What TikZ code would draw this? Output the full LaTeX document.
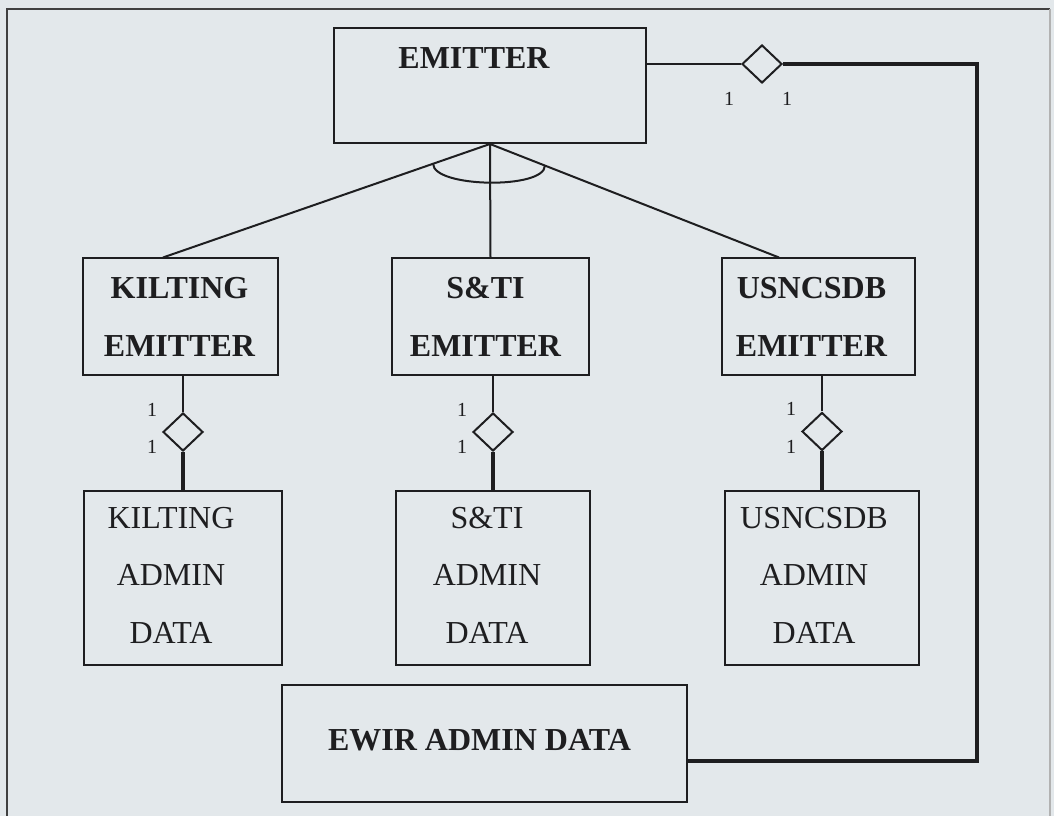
\documentclass[tikz,border=0pt]{standalone}
\usepackage{fontspec}
\setmainfont{Liberation Serif}
\usetikzlibrary{shapes.geometric,calc}
\definecolor{bg}{RGB}{227,232,235}
\definecolor{ink}{RGB}{30,30,32}
\begin{document}
\begin{tikzpicture}[x=0.75pt,y=-0.75pt,
  frame/.style={draw=ink,line width=1.5pt,inner sep=0pt},
  enttxt/.style={align=center,inner sep=0pt,text=ink,
    font=\fontsize{24pt}{43.5pt}\selectfont\bfseries},
  admtxt/.style={align=center,inner sep=0pt,text=ink,
    font=\fontsize{24pt}{43.1pt}\selectfont},
  entbox/.style={frame,minimum height=87.75pt},
  adminbox/.style={frame,minimum height=130.5pt},
  relship/.style={diamond,draw=ink,line width=1.5pt,minimum width=30pt,
    minimum height=28.5pt,inner sep=0pt},
  card/.style={font=\fontsize{15pt}{17pt}\selectfont,inner sep=0pt,text=ink},
  conn/.style={draw=ink,line width=1.5pt},
  heavy/.style={draw=ink,line width=3pt,line join=miter}]
\fill[bg] (0,0) rectangle (1054,816);
\useasboundingbox (0,0) rectangle (1054,816);
% outer frame
\draw[line width=1.5pt,black!75] (7,816) -- (7,9) -- (1050,9);
\draw[line width=1pt,black!30] (1050,9) -- (1050,816);
% top entity
\node[frame,minimum width=234pt,minimum height=86.25pt,
  label={[enttxt,name=emittertxt,shift={(-16,-27)}]center:EMITTER}] (emitter) at (490,85.5) {};
% subtype entities
\node[entbox,minimum width=146.25pt,
  label={[enttxt,name=ket,shift={(-1,0)}]center:KILTING\\EMITTER}] (ke) at (180.5,317) {};
\node[entbox,minimum width=147.75pt,
  label={[enttxt,name=set,shift={(-5,0)}]center:S\&TI\\EMITTER}] (se) at (490.5,317) {};
\node[entbox,minimum width=144.75pt,
  label={[enttxt,name=uet,shift={(-7,0)}]center:USNCSDB\\EMITTER}] (ue) at (818.5,317) {};
% admin entities
\node[adminbox,minimum width=148.5pt,
  label={[admtxt,name=kat,shift={(-12,-3)}]center:KILTING\\ADMIN\\DATA}] (ka) at (183,578) {};
\node[adminbox,minimum width=145.5pt,
  label={[admtxt,name=sat,shift={(-6,-3)}]center:S\&TI\\ADMIN\\DATA}] (sa) at (493,578) {};
\node[adminbox,minimum width=145.5pt,
  label={[admtxt,name=uat,shift={(-8,-3)}]center:USNCSDB\\ADMIN\\DATA}] (ua) at (822,578) {};
\node[frame,minimum width=303.75pt,minimum height=87.75pt,
  label={[enttxt,name=ewt,shift={(-5,-3)},font=\fontsize{24pt}{28pt}\selectfont\bfseries]center:EWIR ADMIN DATA}] (ewir) at (484.5,743.5) {};
% relationship diamonds
\node[relship] (dtop) at (762,64) {};
\node[relship] (dk) at (183,432) {};
\node[relship] (ds) at (493,432) {};
\node[relship] (du) at (822,431.5) {};
% cardinalities
\node[card] (ct1) at (729,99) {1};
\node[card] (ct2) at (787,99) {1};
\node[card] (ck1) at ($(dk)+(-31,-22)$) {1};
\node[card] (ck2) at ($(dk)+(-31,15)$) {1};
\node[card] (cs1) at ($(ds)+(-31,-22)$) {1};
\node[card] (cs2) at ($(ds)+(-31,15)$) {1};
\node[card] (cu1) at ($(du)+(-31,-23)$) {1};
\node[card] (cu2) at ($(du)+(-31,15.5)$) {1};
% generalisation lines
\coordinate (apex) at (emitter.south);
\coordinate (kt) at ($(ke.north)+(-17.5,0)$);
\coordinate (ut) at ($(ue.north)+(-39.5,0)$);
\draw[conn] (kt) -- (apex) -- (ut);
\draw[conn] (apex) -- (se.north);
\coordinate (pl) at ($(apex)!0.174!(kt)$);
\coordinate (pr) at ($(apex)!0.19!(ut)$);
\draw[conn] (pl) .. controls ($(pl)+(0,24)$) and ($(pr)+(0,24)$) .. (pr);
% emitter to admin relationships
\draw[conn] (dk.north) -- (dk.north |- ke.south);
\draw[heavy] (dk.south) -- (ka.north);
\draw[conn] (ds.north) -- (ds.north |- se.south);
\draw[heavy] (ds.south) -- (sa.north);
\draw[conn] (du.north) -- (du.north |- ue.south);
\draw[heavy] (du.south) -- (ua.north);
% top relationship to EWIR
\coordinate (c1) at (977,64);
\coordinate (c2) at (977,761);
\draw[conn] (dtop.west) -- (dtop.west -| emitter.east);
\draw[heavy] (dtop.east) -- (c1) -- (c2) -- (c2 -| ewir.east);
\end{tikzpicture}
\end{document}
